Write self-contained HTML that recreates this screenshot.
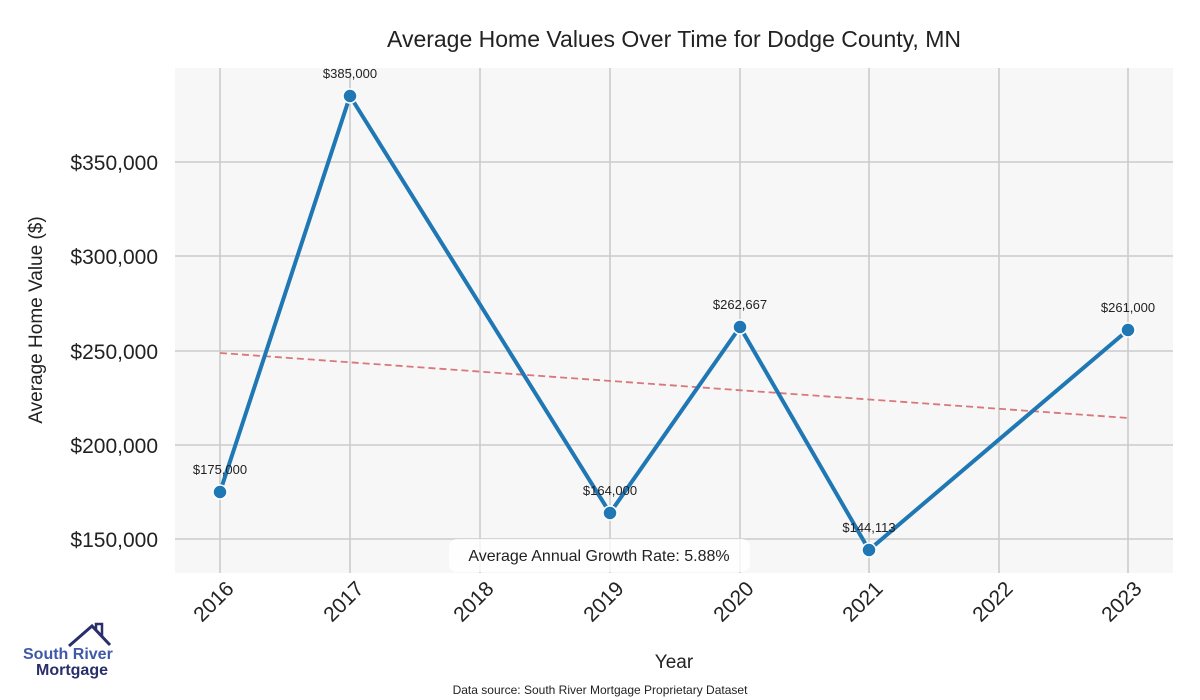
<!DOCTYPE html>
<html><head><meta charset="utf-8"><style>
html,body{margin:0;padding:0;background:#fff;}
svg{display:block;font-family:"Liberation Sans",sans-serif;}
</style></head><body>
<svg width="1200" height="700" viewBox="0 0 1200 700" xmlns="http://www.w3.org/2000/svg">
<rect x="0" y="0" width="1200" height="700" fill="#fff"/>
<rect x="175" y="68" width="998" height="505" fill="#f7f7f7"/>
<g stroke="#cccccc" stroke-width="1.6">
<line x1="220" y1="68" x2="220" y2="573"/><line x1="350" y1="68" x2="350" y2="573"/>
<line x1="480" y1="68" x2="480" y2="573"/><line x1="610" y1="68" x2="610" y2="573"/>
<line x1="740" y1="68" x2="740" y2="573"/><line x1="869" y1="68" x2="869" y2="573"/>
<line x1="999" y1="68" x2="999" y2="573"/><line x1="1128" y1="68" x2="1128" y2="573"/>
<line x1="175" y1="162" x2="1173" y2="162"/><line x1="175" y1="256" x2="1173" y2="256"/>
<line x1="175" y1="351" x2="1173" y2="351"/><line x1="175" y1="445" x2="1173" y2="445"/>
<line x1="175" y1="539" x2="1173" y2="539"/>
</g>
<text x="674" y="47" font-size="23" fill="#222" text-anchor="middle">Average Home Values Over Time for Dodge County, MN</text>
<g font-size="21" fill="#222" text-anchor="end">
<text x="158" y="170">$350,000</text><text x="158" y="264">$300,000</text>
<text x="158" y="359">$250,000</text><text x="158" y="453">$200,000</text>
<text x="158" y="547">$150,000</text>
</g>
<text transform="translate(42,320) rotate(-90)" font-size="19" fill="#222" text-anchor="middle">Average Home Value ($)</text>
<g font-size="21" fill="#222" text-anchor="end">
<text transform="translate(235,590) rotate(-45)">2016</text>
<text transform="translate(365,590) rotate(-45)">2017</text>
<text transform="translate(495,590) rotate(-45)">2018</text>
<text transform="translate(625,590) rotate(-45)">2019</text>
<text transform="translate(755,590) rotate(-45)">2020</text>
<text transform="translate(884,590) rotate(-45)">2021</text>
<text transform="translate(1014,590) rotate(-45)">2022</text>
<text transform="translate(1143,590) rotate(-45)">2023</text>
</g>
<text x="674" y="668" font-size="19" fill="#222" text-anchor="middle">Year</text>
<line x1="220" y1="353" x2="1128" y2="418" stroke="#d9777b" stroke-width="1.8" stroke-dasharray="7,4"/>
<polyline points="220,492 350,96 610,513 740,327 869,550 1128,330" fill="none" stroke="#1f77b4" stroke-width="4" stroke-linejoin="round"/>
<g fill="#1f77b4" stroke="#fff" stroke-width="1.5">
<circle cx="220" cy="492" r="7"/><circle cx="350" cy="96" r="7"/><circle cx="610" cy="513" r="7"/>
<circle cx="740" cy="327" r="7"/><circle cx="869" cy="550" r="7"/><circle cx="1128" cy="330" r="7"/>
</g>
<g font-size="13" fill="#222" text-anchor="middle">
<text x="220" y="474">$175,000</text><text x="350" y="78">$385,000</text>
<text x="610" y="495">$164,000</text><text x="740" y="309">$262,667</text>
<text x="869" y="532">$144,113</text><text x="1128" y="312">$261,000</text>
</g>
<rect x="449" y="539" width="301" height="33" rx="8" fill="#fff" fill-opacity="0.8"/>
<text x="599" y="561" font-size="16" fill="#222" text-anchor="middle">Average Annual Growth Rate: 5.88%</text>
<text x="600" y="694" font-size="12" fill="#222" text-anchor="middle">Data source: South River Mortgage Proprietary Dataset</text>
<polyline points="69,646 92,626 110,645" fill="none" stroke="#2a2f6b" stroke-width="3"/>
<polyline points="96,630 96,624 102,624 102,637" fill="none" stroke="#2a2f6b" stroke-width="2.5"/>
<text x="23" y="659" font-size="16" font-weight="bold" fill="#4058a8">South River</text>
<text x="36" y="675" font-size="16" font-weight="bold" fill="#2a2f6b">Mortgage</text>
</svg>
</body></html>
